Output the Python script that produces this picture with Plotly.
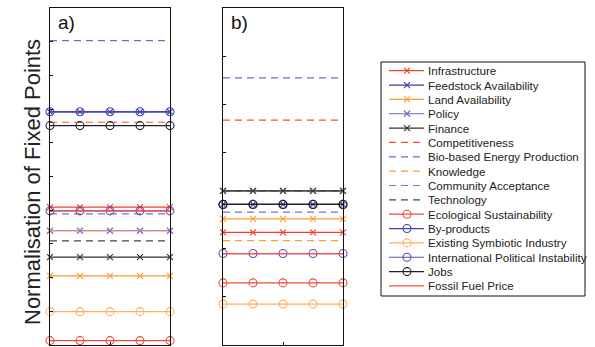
import plotly.graph_objects as go

# Five evaluation steps along the horizontal axis of each panel
x_steps = [0, 1, 2, 3, 4]

series_names = [
    "Infrastructure", "Feedstock Availability", "Land Availability", "Policy",
    "Finance", "Competitiveness", "Bio-based Energy Production", "Knowledge",
    "Community Acceptance", "Technology", "Ecological Sustainability",
    "By-products", "Existing Symbiotic Industry", "International Political Instability",
    "Jobs", "Fossil Fuel Price",
]

# Normalised fixed point of each factor, panel a)
values_a = [0.409, 0.692, 0.205, 0.339, 0.261, 0.661, 0.903, 0.339,
            0.389, 0.309, 0.013, 0.692, 0.099, 0.398, 0.651, 0.398]

# Normalised fixed point of each factor, panel b)
values_b = [0.234, 0.292, 0.262, 0.320, 0.320, 0.467, 0.555, 0.217,
            0.276, 0.320, 0.129, 0.292, 0.085, 0.190, 0.292, 0.190]

panel_labels = ["a)", "b)"]
y_axis_title = "Normalisation of Fixed Points"

# Line styling per factor
colors = ["#f2412b", "#3b3ba0", "#ff9a2e", "#7f5fc0", "#333333",
          "#ff4a3a", "#6b6bd0", "#ff9933", "#8a6ad0", "#444444",
          "#ef4b3b", "#4040b0", "#ffb060", "#6a4ab0", "#222222", "#ff5040"]
dashes = ["solid"] * 5 + ["7px,5px"] * 5 + ["solid"] * 6
symbols = ["x-thin-open"] * 5 + [None] * 5 + ["circle-open"] * 5 + [None]

W, H = 595, 347
top, bottom = 8, 345
plot_h = bottom - top


def px_x(p):
    return p / W


def px_y(p):
    return (bottom - p) / plot_h


FONT = "Arial, Liberation Sans, Helvetica, sans-serif"

fig = go.Figure()

panels = [("x", "y", values_a), ("x2", "y2", values_b)]
for xa, ya, vals in panels:
    for name, v, c, d, s in zip(series_names, vals, colors, dashes, symbols):
        mode = "lines+markers" if s else "lines"
        fig.add_trace(go.Scatter(
            x=x_steps, y=[v] * len(x_steps), mode=mode, name=name,
            xaxis=xa, yaxis=ya, showlegend=False, cliponaxis=False,
            line=dict(color=c, width=1.2, dash=d),
            marker=dict(symbol=s or "circle", size=8 if s == "circle-open" else 6,
                        color=c, line=dict(color=c, width=1.1)),
        ))

# Hand-built legend in its own small axis: one row per factor
leg_rows = list(range(len(series_names)))
for i, (name, c, d, s) in enumerate(zip(series_names, colors, dashes, symbols)):
    fig.add_trace(go.Scatter(
        x=[8, 43], y=[leg_rows[i]] * 2, mode="lines", xaxis="x3", yaxis="y3",
        showlegend=False, line=dict(color=c, width=1.2, dash=d), hoverinfo="skip",
    ))
    if s:
        fig.add_trace(go.Scatter(
            x=[26], y=[leg_rows[i]], mode="markers", xaxis="x3", yaxis="y3",
            showlegend=False, hoverinfo="skip", cliponaxis=False,
            marker=dict(symbol=s, size=8 if s == "circle-open" else 6,
                        color=c, line=dict(color=c, width=1.1)),
        ))
    fig.add_annotation(x=45, y=leg_rows[i], xref="x3", yref="y3", text=name,
                       showarrow=False, xanchor="left", yanchor="middle",
                       font=dict(family=FONT, size=11.6, color="#222222"))

axis_common = dict(showgrid=False, zeroline=False, showticklabels=False,
                   showline=True, linecolor="#111111", linewidth=1, mirror=True,
                   ticks="inside", ticklen=3, tickcolor="#111111")

leg_top, leg_bot, row0, row_gap = 62, 296, 70.7, 14.35

fig.update_layout(
    width=W, height=H,
    margin=dict(l=0, r=0, t=top, b=H - bottom),
    paper_bgcolor="white", plot_bgcolor="white",
    showlegend=False,
    xaxis=dict(domain=[px_x(50), px_x(170)], range=[0, 4], tickvals=[2], **axis_common),
    yaxis=dict(domain=[0, 1], range=[0, 1], dtick=0.1, tick0=0, **axis_common),
    xaxis2=dict(domain=[px_x(223), px_x(343)], range=[0, 4], tickvals=[2],
                anchor="y2", **axis_common),
    yaxis2=dict(domain=[0, 1], range=[0, 0.7], dtick=0.1, tick0=0, anchor="x2",
                **axis_common),
    xaxis3=dict(domain=[px_x(381), px_x(585)], range=[0, 204], visible=False, anchor="y3"),
    yaxis3=dict(domain=[px_y(leg_bot), px_y(leg_top)],
                range=[(leg_bot - row0) / row_gap, (leg_top - row0) / row_gap],
                visible=False, anchor="x3"),
)

# Legend frame
fig.add_shape(type="rect", xref="x3 domain", yref="y3 domain", x0=0, x1=1, y0=0, y1=1,
              line=dict(color="#111111", width=1), fillcolor="rgba(0,0,0,0)")

# Panel labels
for lbl, xr in zip(panel_labels, ["x domain", "x2 domain"]):
    fig.add_annotation(x=0.05, y=0.995, xref=xr, yref="paper", text=lbl,
                       showarrow=False, xanchor="left", yanchor="top",
                       font=dict(family=FONT, size=19, color="#111111"))

# Shared vertical axis title
fig.add_annotation(x=px_x(32), y=px_y(182), xref="paper", yref="paper",
                   text=y_axis_title, textangle=-90, showarrow=False,
                   xanchor="center", yanchor="middle",
                   font=dict(family=FONT, size=22, color="#222222"))

fig.write_html("out.html")
